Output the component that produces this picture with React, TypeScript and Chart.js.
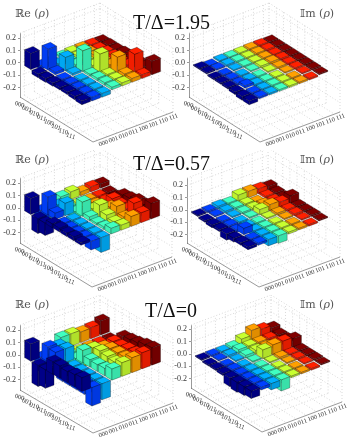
import React, { useEffect, useRef } from "react";
import { Chart, registerables } from "chart.js";
Chart.register(...registerables);

const basisLabels = ["000", "001", "010", "011", "100", "101", "110", "111"];
const columnColors = ["#00008f", "#0040ff", "#00b0ff", "#40ffc0", "#c8ff30", "#ffa000", "#ff2000", "#800000"];
const zTicks = [-0.2, -0.1, 0, 0.1, 0.2];

const reHigh = [
  [0.13, -0.03, -0.03, 0.012, 0.018, 0.02, 0.018, 0.015],
  [-0.03, 0.17, 0.02, 0.015, 0.02, 0.025, 0.02, 0.02],
  [-0.03, 0.02, 0.11, 0.02, 0.02, 0.03, 0.03, 0.02],
  [-0.025, -0.025, 0.015, 0.17, 0.02, 0.025, 0.035, 0.03],
  [-0.02, -0.025, -0.02, 0.015, 0.15, 0.03, 0.03, 0.035],
  [-0.02, -0.02, -0.025, 0.02, 0.02, 0.13, 0.035, 0.03],
  [-0.025, -0.025, -0.03, 0.02, 0.02, 0.03, 0.16, 0.03],
  [-0.03, -0.03, -0.03, 0.02, 0.025, 0.03, 0.03, 0.11],
];
const imHigh = [
  [0.008, -0.01, 0.01, 0.01, 0.012, 0.015, 0.015, 0.012],
  [0.01, 0.008, 0.012, 0.012, 0.012, 0.015, 0.015, 0.012],
  [-0.01, -0.012, 0.008, 0.01, 0.012, 0.015, 0.012, 0.012],
  [-0.01, -0.012, -0.01, 0.008, 0.015, 0.018, 0.015, 0.012],
  [-0.012, -0.012, -0.012, -0.015, 0.008, 0.012, 0.012, 0.012],
  [-0.02, 0.02, -0.015, -0.018, -0.012, 0.008, 0.012, 0.012],
  [-0.03, -0.015, -0.012, -0.015, -0.012, -0.012, 0.008, 0.012],
  [-0.03, -0.012, -0.012, -0.012, -0.012, -0.012, -0.012, 0.008],
];
const reMid = [
  [0.13, -0.12, -0.09, 0.05, 0.06, 0.03, 0.04, 0.035],
  [-0.12, 0.145, 0.05, -0.06, -0.05, -0.05, -0.05, -0.05],
  [-0.1, 0.05, 0.1, -0.05, -0.05, -0.05, -0.05, -0.05],
  [0.03, -0.06, -0.05, 0.115, 0.03, 0.02, 0.05, 0.05],
  [0.03, -0.05, -0.05, 0.03, 0.095, 0.05, 0.04, 0.06],
  [0.025, -0.05, -0.05, 0.015, 0.05, 0.09, 0.04, 0.08],
  [0.03, -0.05, -0.05, 0.02, 0.03, 0.04, 0.12, 0.08],
  [0.02, -0.07, -0.12, 0.045, 0.04, 0.08, 0.08, 0.125],
];
const imMid = [
  [0.008, 0.012, 0.02, 0.015, 0.05, 0.05, 0.04, 0.03],
  [-0.012, 0.008, 0.015, 0.015, 0.015, -0.03, 0.015, 0.015],
  [-0.02, -0.015, 0.008, 0.012, 0.015, 0.015, 0.015, 0.012],
  [-0.015, -0.015, -0.012, 0.008, 0.04, 0.05, 0.04, 0.06],
  [-0.05, -0.015, -0.04, -0.04, 0.008, 0.015, 0.015, 0.012],
  [-0.03, 0.05, -0.04, -0.05, -0.015, 0.008, 0.015, 0.012],
  [-0.02, -0.02, -0.04, -0.04, -0.015, -0.015, 0.008, 0.012],
  [-0.02, -0.015, -0.05, -0.06, -0.015, -0.012, -0.012, 0.008],
];
const reZero = [
  [0.14, -0.12, -0.1, 0.1, 0.1, 0.085, 0.09, 0.115],
  [-0.17, 0.12, 0.1, -0.09, -0.09, -0.09, -0.09, -0.1],
  [-0.15, 0.11, 0.11, -0.1, -0.09, -0.1, -0.09, -0.09],
  [0.1, -0.09, -0.1, 0.1, 0.09, 0.07, 0.08, 0.09],
  [0.1, -0.09, -0.09, 0.06, 0.1, 0.09, 0.08, 0.1],
  [0.09, -0.09, -0.1, 0.055, 0.09, 0.09, 0.09, 0.11],
  [0.1, -0.09, -0.09, 0.06, 0.08, 0.09, 0.095, 0.13],
  [0.11, -0.15, -0.13, 0.09, 0.11, 0.12, 0.13, 0.14],
];
const imZero = [
  [0.008, 0.01, 0.01, 0.015, 0.05, 0.09, 0.07, 0.05],
  [-0.01, 0.008, 0.015, 0.03, 0.03, 0.03, 0.03, 0.03],
  [-0.01, -0.015, 0.008, 0.02, 0.03, 0.03, 0.03, 0.03],
  [-0.015, -0.03, -0.02, 0.008, 0.07, 0.08, 0.08, 0.07],
  [-0.07, -0.04, -0.05, -0.07, 0.008, 0.015, 0.012, 0.012],
  [-0.08, -0.04, -0.05, -0.07, -0.015, 0.008, 0.012, 0.012],
  [-0.07, -0.04, -0.05, -0.08, -0.012, -0.012, 0.008, 0.012],
  [-0.06, -0.02, -0.05, -0.09, -0.012, -0.012, -0.012, 0.008],
];

type PanelCfg = {
  values: number[][]; left: number; top: number; width: number; height: number;
  lx: number; ly: number; fx: number; fy: number; rx: number; ry: number;
  z0: number; zTopY: number; head: string; labelX: number; labelY: number;
};

const panels: PanelCfg[] = [
  { values: reHigh, left: 0, top: 0, width: 190, height: 150, lx: 20, ly: 97, fx: 93, fy: 142, rx: 173, ry: 112, z0: 63, zTopY: 33, head: "ℝe", labelX: 15, labelY: 7 },
  { values: imHigh, left: 165, top: 0, width: 189, height: 150, lx: 189, ly: 97, fx: 260, fy: 142, rx: 340, ry: 112, z0: 63, zTopY: 33, head: "𝕀m", labelX: 300, labelY: 7 },
  { values: reMid, left: 0, top: 150, width: 190, height: 146, lx: 20, ly: 243, fx: 92, fy: 287, rx: 172, ry: 257, z0: 208, zTopY: 178, head: "ℝe", labelX: 15, labelY: 153 },
  { values: imMid, left: 165, top: 150, width: 189, height: 146, lx: 187, ly: 243, fx: 259, fy: 287, rx: 340, ry: 257, z0: 210, zTopY: 178, head: "𝕀m", labelX: 300, labelY: 153 },
  { values: reZero, left: 0, top: 295, width: 190, height: 144, lx: 20, ly: 390, fx: 93, fy: 433, rx: 173, ry: 403, z0: 355, zTopY: 325, head: "ℝe", labelX: 15, labelY: 298 },
  { values: imZero, left: 165, top: 295, width: 189, height: 144, lx: 191, ly: 388, fx: 262, fy: 432, rx: 342, ry: 402, z0: 354, zTopY: 325, head: "𝕀m", labelX: 300, labelY: 298 },
];

const titles = [
  { text: "T/Δ=1.95", x: 133, y: 11 },
  { text: "T/Δ=0.57", x: 133, y: 152 },
  { text: "T/Δ=0", x: 145, y: 299 },
];

const Z_PER_PX = 0.1 / 12.3;
const A_CELLS = 10;
const B_CELLS = 8;
const A0 = 1.04;
const B0 = 0.44;
const HALF = 0.43;

function shade(hex: string, k: number) {
  const n = parseInt(hex.slice(1), 16);
  const f = (v: number) => Math.min(255, Math.round(v * k));
  return `rgb(${f((n >> 16) & 255)},${f((n >> 8) & 255)},${f(n & 255)})`;
}

function makePlugin(p: PanelCfg) {
  return {
    id: "bars3d",
    afterDatasetsDraw(chart: any) {
      const ctx: CanvasRenderingContext2D = chart.ctx;
      const xs = chart.scales.x;
      const ys = chart.scales.y;
      const ux = (p.fx - p.lx) / A_CELLS;
      const uy = (p.fy - p.ly) / A_CELLS;
      const vx = (p.rx - p.fx) / B_CELLS;
      const vy = (p.ry - p.fy) / B_CELLS;
      const pt = (a: number, b: number, z: number): [number, number] => [
        xs.getPixelForValue(a * ux + b * vx),
        ys.getPixelForValue(z - (a * uy + b * vy) * Z_PER_PX),
      ];
      const zMin = ys.min;
      const zMax = ys.max;
      const seg = (q1: [number, number], q2: [number, number]) => {
        ctx.beginPath();
        ctx.moveTo(q1[0], q1[1]);
        ctx.lineTo(q2[0], q2[1]);
        ctx.stroke();
      };
      ctx.save();
      ctx.strokeStyle = "#c0c0c0";
      ctx.lineWidth = 0.6;
      ctx.setLineDash([1, 2]);
      for (let i = 0; i < 8; i++) {
        const a = A0 + i;
        const b = B0 + i;
        seg(pt(a, 0, zMin), pt(a, B_CELLS, zMin));
        seg(pt(0, b, zMin), pt(A_CELLS, b, zMin));
        seg(pt(0, b, zMin), pt(0, b, zMax));
        seg(pt(a, B_CELLS, zMin), pt(a, B_CELLS, zMax));
      }
      zTicks.forEach((z) => {
        seg(pt(0, 0, z), pt(0, B_CELLS, z));
        seg(pt(0, B_CELLS, z), pt(A_CELLS, B_CELLS, z));
      });
      seg(pt(0, 0, zMax), pt(0, B_CELLS, zMax));
      seg(pt(0, B_CELLS, zMax), pt(A_CELLS, B_CELLS, zMax));
      seg(pt(A_CELLS, B_CELLS, zMin), pt(A_CELLS, B_CELLS, zMax));
      seg(pt(0, B_CELLS, zMin), pt(0, B_CELLS, zMax));
      ctx.setLineDash([]);
      ctx.strokeStyle = "#555";
      ctx.lineWidth = 0.6;
      seg(pt(0, 0, zMin), pt(A_CELLS, 0, zMin));
      seg(pt(A_CELLS, 0, zMin), pt(A_CELLS, B_CELLS, zMin));

      ctx.fillStyle = "#333";
      ctx.font = "6.5px 'Liberation Serif'";
      ctx.textAlign = "center";
      ctx.textBaseline = "middle";
      basisLabels.forEach((t, i) => {
        const q1 = pt(A0 + i, 0, zMin);
        ctx.save();
        ctx.translate(q1[0] - 8, q1[1] + 3);
        ctx.rotate((18 * Math.PI) / 180);
        ctx.fillText(t, 0, 0);
        ctx.restore();
        const q2 = pt(A_CELLS, B0 + i, zMin);
        ctx.save();
        ctx.translate(q2[0] + 6, q2[1] + 3);
        ctx.rotate((-20 * Math.PI) / 180);
        ctx.fillText(t, 0, 0);
        ctx.restore();
      });

      ctx.lineWidth = 0.5;
      ctx.strokeStyle = "rgba(0,0,0,0.55)";
      ctx.lineJoin = "round";
      const face = (qs: [number, number][], fill: string) => {
        ctx.beginPath();
        qs.forEach((q, i) => (i ? ctx.lineTo(q[0], q[1]) : ctx.moveTo(q[0], q[1])));
        ctx.closePath();
        ctx.fillStyle = fill;
        ctx.fill();
        ctx.stroke();
      };
      const n = chart.data.datasets[0].data.length;
      for (let r = 0; r < n; r++) {
        for (let c = chart.data.datasets.length - 1; c >= 0; c--) {
          const v = chart.data.datasets[c].data[r].y as number;
          const col = columnColors[c];
          const a = A0 + r;
          const b = B0 + c;
          const zt = Math.max(0, v);
          const zb = Math.min(0, v);
          face(
            [pt(a - HALF, b - HALF, zt), pt(a + HALF, b - HALF, zt), pt(a + HALF, b + HALF, zt), pt(a - HALF, b + HALF, zt)],
            shade(col, 1)
          );
          face(
            [pt(a - HALF, b - HALF, zt), pt(a + HALF, b - HALF, zt), pt(a + HALF, b - HALF, zb), pt(a - HALF, b - HALF, zb)],
            shade(col, 0.95)
          );
          face(
            [pt(a + HALF, b - HALF, zt), pt(a + HALF, b + HALF, zt), pt(a + HALF, b + HALF, zb), pt(a + HALF, b - HALF, zb)],
            shade(col, 0.88)
          );
        }
      }
      ctx.restore();
    },
  };
}

function Panel({ p }: { p: PanelCfg }) {
  const ref = useRef<HTMLCanvasElement>(null);
  useEffect(() => {
    const yWidth = 17;
    const perUnit = 12.3 / 0.1;
    const chart = new Chart(ref.current!, {
      type: "scatter",
      data: {
        datasets: columnColors.map((color, c) => ({
          label: basisLabels[c],
          backgroundColor: color,
          pointRadius: 0,
          data: p.values.map((row, r) => ({ x: r, y: row[c] })),
        })),
      },
      options: {
        responsive: false,
        animation: false,
        layout: {
          padding: {
            left: p.lx - p.left - yWidth,
            right: p.left + p.width - p.rx,
            top: p.zTopY - p.top,
            bottom: p.top + p.height - p.ly,
          },
        },
        plugins: { legend: { display: false }, tooltip: { enabled: false } },
        scales: {
          x: { type: "linear", display: false, min: 0, max: p.rx - p.lx },
          y: {
            type: "linear",
            min: (p.z0 - p.ly) / perUnit,
            max: (p.z0 - p.zTopY) / perUnit,
            afterFit: (s: any) => { s.width = yWidth; },
            grid: { drawOnChartArea: false, drawTicks: true, tickLength: 2, color: "#555", lineWidth: 0.6 },
            border: { display: true, color: "#555", width: 0.6 },
            ticks: {
              stepSize: 0.1,
              includeBounds: false,
              padding: 2,
              color: "#333",
              font: { family: "'Liberation Serif'", size: 8 },
              callback: (v: any) => (Math.abs(Number(v)) < 1e-9 ? "0.0" : Number(v).toFixed(1)),
            },
          },
        },
      } as any,
      plugins: [makePlugin(p)],
    });
    return () => chart.destroy();
  }, [p]);
  return (
    <canvas
      ref={ref}
      width={p.width}
      height={p.height}
      style={{ position: "absolute", left: p.left, top: p.top, width: p.width, height: p.height }}
    />
  );
}

export default function App() {
  return (
    <div style={{ position: "relative", width: 354, height: 439, overflow: "hidden", background: "#fff" }}>
      <style>{"body{margin:0}"}</style>
      {panels.map((p, i) => <Panel key={i} p={p} />)}
      {panels.map((p, i) => (
        <div key={i} style={{ position: "absolute", left: p.labelX, top: p.labelY, font: "11px 'DejaVu Serif'", color: "#555", whiteSpace: "pre" }}>
          {p.head + " ("}<i>ρ</i>{")"}
        </div>
      ))}
      {titles.map((t, i) => (
        <div key={i} style={{ position: "absolute", left: t.x, top: t.y, font: "20px 'Liberation Serif'", color: "#111", whiteSpace: "pre" }}>
          {t.text}
        </div>
      ))}
    </div>
  );
}
